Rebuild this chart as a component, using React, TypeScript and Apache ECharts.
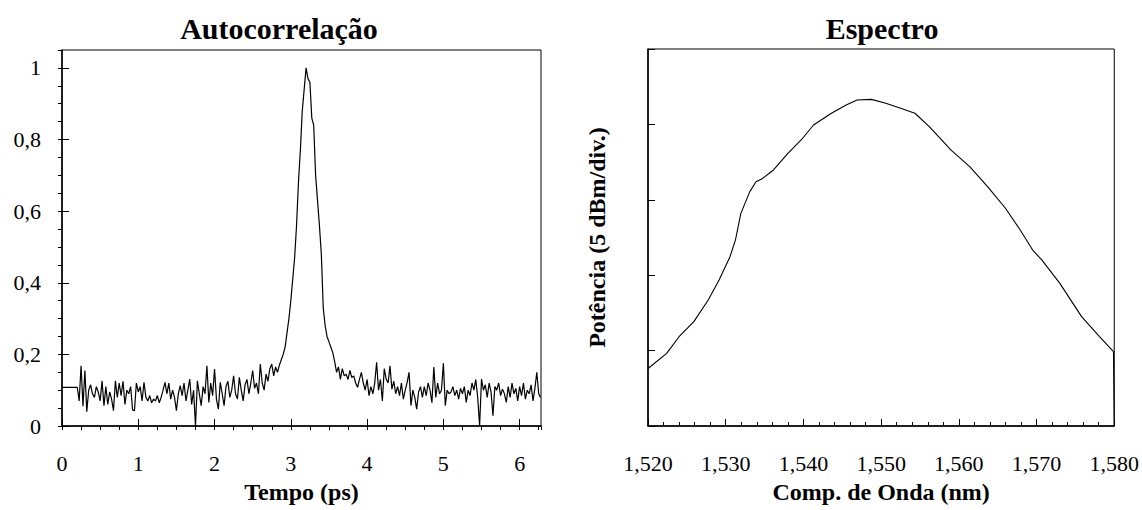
import React, { useEffect, useRef } from "react";
import * as echarts from "echarts";

// Autocorrelação: [tempo (ps), intensidade normalizada]
const AUTOCORR: [number, number][] = [
  [0, 0.108], [0.025, 0.108], [0.05, 0.108], [0.075, 0.108], [0.1, 0.108], [0.125, 0.108], [0.15, 0.108], [0.175, 0.108], [0.2, 0.108],
  [0.225, 0.07], [0.25, 0.168], [0.275, 0.055], [0.3, 0.155], [0.325, 0.04], [0.35, 0.1], [0.375, 0.115], [0.4, 0.09],
  [0.425, 0.08], [0.45, 0.11], [0.475, 0.095], [0.5, 0.07], [0.525, 0.126], [0.55, 0.057], [0.575, 0.11], [0.6, 0.06],
  [0.625, 0.095], [0.65, 0.075], [0.675, 0.043], [0.7, 0.126], [0.725, 0.08], [0.75, 0.12], [0.775, 0.085], [0.8, 0.125],
  [0.825, 0.06], [0.85, 0.1], [0.875, 0.09], [0.9, 0.11], [0.925, 0.045], [0.95, 0.043], [0.975, 0.12], [1.0, 0.095],
  [1.025, 0.11], [1.05, 0.07], [1.075, 0.122], [1.1, 0.08], [1.125, 0.07], [1.15, 0.085], [1.175, 0.065], [1.2, 0.075],
  [1.225, 0.07], [1.25, 0.085], [1.275, 0.065], [1.3, 0.08], [1.325, 0.1], [1.35, 0.122], [1.375, 0.09], [1.4, 0.12],
  [1.425, 0.075], [1.45, 0.1], [1.475, 0.08], [1.5, 0.043], [1.525, 0.09], [1.55, 0.113], [1.575, 0.085], [1.6, 0.12],
  [1.625, 0.07], [1.65, 0.1], [1.675, 0.131], [1.7, 0.06], [1.725, 0.1], [1.75, 0.0], [1.775, 0.126], [1.8, 0.09],
  [1.825, 0.057], [1.85, 0.11], [1.875, 0.09], [1.9, 0.168], [1.925, 0.066], [1.95, 0.12], [1.975, 0.085], [2.0, 0.159],
  [2.025, 0.075], [2.05, 0.047], [2.075, 0.122], [2.1, 0.09], [2.125, 0.057], [2.15, 0.11], [2.175, 0.125], [2.2, 0.08],
  [2.225, 0.1], [2.25, 0.14], [2.275, 0.09], [2.3, 0.075], [2.325, 0.136], [2.35, 0.1], [2.375, 0.07], [2.4, 0.115],
  [2.425, 0.13], [2.45, 0.09], [2.475, 0.12], [2.5, 0.155], [2.525, 0.105], [2.55, 0.12], [2.575, 0.09], [2.6, 0.173],
  [2.625, 0.12], [2.65, 0.1], [2.675, 0.145], [2.7, 0.125], [2.725, 0.16], [2.75, 0.173], [2.775, 0.14], [2.8, 0.165],
  [2.825, 0.15], [2.85, 0.17], [2.875, 0.185], [2.9, 0.2], [2.925, 0.22], [2.95, 0.26], [2.975, 0.3], [3.0, 0.35],
  [3.025, 0.41], [3.05, 0.47], [3.075, 0.56], [3.1, 0.68], [3.125, 0.77], [3.15, 0.88], [3.175, 0.94], [3.2, 1.0],
  [3.225, 0.97], [3.25, 0.96], [3.275, 0.86], [3.3, 0.84], [3.325, 0.7], [3.35, 0.63], [3.375, 0.56], [3.4, 0.48],
  [3.425, 0.33], [3.45, 0.28], [3.475, 0.25], [3.5, 0.235], [3.525, 0.22], [3.55, 0.205], [3.575, 0.18], [3.6, 0.15],
  [3.625, 0.165], [3.65, 0.13], [3.675, 0.16], [3.7, 0.14], [3.725, 0.145], [3.75, 0.13], [3.775, 0.155], [3.8, 0.135],
  [3.825, 0.14], [3.85, 0.12], [3.875, 0.108], [3.9, 0.13], [3.925, 0.15], [3.95, 0.12], [3.975, 0.1], [4.0, 0.13],
  [4.025, 0.085], [4.05, 0.11], [4.075, 0.09], [4.1, 0.12], [4.125, 0.178], [4.15, 0.1], [4.175, 0.13], [4.2, 0.07],
  [4.225, 0.16], [4.25, 0.131], [4.275, 0.12], [4.3, 0.168], [4.325, 0.103], [4.35, 0.125], [4.375, 0.09], [4.4, 0.11],
  [4.425, 0.085], [4.45, 0.12], [4.475, 0.075], [4.5, 0.1], [4.525, 0.122], [4.55, 0.15], [4.575, 0.057], [4.6, 0.1],
  [4.625, 0.08], [4.65, 0.047], [4.675, 0.095], [4.7, 0.11], [4.725, 0.08], [4.75, 0.11], [4.775, 0.085], [4.8, 0.12],
  [4.825, 0.1], [4.85, 0.065], [4.875, 0.165], [4.9, 0.08], [4.925, 0.12], [4.95, 0.09], [4.975, 0.1], [5.0, 0.175],
  [5.025, 0.057], [5.05, 0.1], [5.075, 0.09], [5.1, 0.095], [5.125, 0.11], [5.15, 0.085], [5.175, 0.1], [5.2, 0.075],
  [5.225, 0.105], [5.25, 0.09], [5.275, 0.11], [5.3, 0.066], [5.325, 0.1], [5.35, 0.085], [5.375, 0.12], [5.4, 0.1],
  [5.425, 0.13], [5.45, 0.08], [5.475, 0.0], [5.5, 0.131], [5.525, 0.1], [5.55, 0.115], [5.575, 0.08], [5.6, 0.12],
  [5.625, 0.095], [5.65, 0.029], [5.675, 0.11], [5.7, 0.1], [5.725, 0.12], [5.75, 0.085], [5.775, 0.103], [5.8, 0.09],
  [5.825, 0.066], [5.85, 0.11], [5.875, 0.08], [5.9, 0.12], [5.925, 0.09], [5.95, 0.105], [5.975, 0.07], [6.0, 0.11],
  [6.025, 0.085], [6.05, 0.12], [6.075, 0.075], [6.1, 0.1], [6.125, 0.09], [6.15, 0.115], [6.175, 0.07], [6.2, 0.105],
  [6.225, 0.15], [6.25, 0.09], [6.275, 0.08],
];

// Espectro: [comprimento de onda (nm), potência relativa (dB)]
const SPECTRUM: [number, number][] = [
  [1520.05, 3.83], [1522.4, 4.82], [1524.0, 5.92], [1525.9, 6.92], [1527.75, 8.36], [1529.15, 9.68],
  [1530.55, 11.23], [1531.25, 12.33], [1531.95, 14.1], [1533.1, 15.54], [1533.9, 16.2], [1534.75, 16.42],
  [1536.15, 16.98], [1538.0, 18.08], [1539.9, 19.08], [1541.3, 19.96], [1543.6, 20.74], [1545.5, 21.29],
  [1546.9, 21.62], [1548.75, 21.66], [1550.6, 21.4], [1552.5, 21.07], [1554.35, 20.74], [1556.2, 19.85],
  [1559.0, 18.3], [1561.4, 17.2], [1563.7, 15.87], [1566.0, 14.44], [1567.9, 13.0], [1569.5, 11.67],
  [1570.7, 11.0], [1573.0, 9.46], [1575.8, 7.25], [1578.1, 5.92], [1579.9, 4.93], [1580, 0],
];

const TITLE_LEFT = "Autocorrelação";
const TITLE_RIGHT = "Espectro";
const X_NAME_LEFT = "Tempo (ps)";
const X_NAME_RIGHT = "Comp. de Onda (nm)";
const Y_NAME_RIGHT = "Potência (5 dBm/div.)";

const FONT = '"Liberation Serif", "Times New Roman", serif';

export default function App() {
  const ref = useRef<HTMLDivElement>(null);
  useEffect(() => {
    document.body.style.margin = "0";
    const chart = echarts.init(ref.current!, null, { renderer: "svg" });
    const black = "#000";
    const tickLabel = { color: black, fontFamily: FONT, fontSize: 22 };
    const nameStyle = { color: black, fontFamily: FONT, fontSize: 24, fontWeight: "bold" as const };
    chart.setOption({
      animation: false,
      backgroundColor: "#fff",
      grid: [
        { left: 62, top: 50, width: 479, height: 376, show: true, borderColor: black, borderWidth: 1, backgroundColor: "transparent" },
        { left: 648, top: 49, width: 469, height: 377, show: true, borderColor: black, borderWidth: 1, backgroundColor: "transparent" },
      ],
      xAxis: [
        {
          type: "value", gridIndex: 0, min: 0, max: 6.28, interval: 1,
          axisLine: { lineStyle: { color: black, width: 1.5 } },
          axisTick: { inside: true, length: 7, lineStyle: { color: black } },
          axisLabel: { ...tickLabel, margin: 26, showMaxLabel: false },
          splitLine: { show: false },
          name: X_NAME_LEFT, nameLocation: "middle", nameGap: 54, nameTextStyle: nameStyle,
        },
        {
          type: "value", gridIndex: 0, min: 0, max: 6.28, interval: 0.25,
          axisLine: { show: false },
          axisTick: { inside: true, length: 4, lineStyle: { color: black } },
          axisLabel: { show: false }, splitLine: { show: false },
        },
        {
          type: "value", gridIndex: 1, min: 1520, max: 1580, interval: 10,
          axisLine: { lineStyle: { color: black, width: 1.5 } },
          axisTick: { inside: true, length: 7, lineStyle: { color: black } },
          minorTick: { show: true, splitNumber: 5, length: 4, lineStyle: { color: black } },
          axisLabel: { ...tickLabel, margin: 26 },
          splitLine: { show: false },
          name: X_NAME_RIGHT, nameLocation: "middle", nameGap: 54, nameTextStyle: nameStyle,
        },
      ],
      yAxis: [
        {
          type: "value", gridIndex: 0, min: 0, max: 1.05, interval: 0.2,
          axisLine: { lineStyle: { color: black, width: 1.5 } },
          axisTick: { inside: true, length: 7, lineStyle: { color: black } },
          axisLabel: {
            ...tickLabel, margin: 21, showMaxLabel: false,
            formatter: (v: number) => String(Math.round(v * 10) / 10).replace(".", ","),
          },
          splitLine: { show: false },
        },
        {
          type: "value", gridIndex: 0, min: 0, max: 1.05, interval: 0.05,
          axisLine: { show: false },
          axisTick: { inside: true, length: 4, lineStyle: { color: black } },
          axisLabel: { show: false }, splitLine: { show: false },
        },
        {
          type: "value", gridIndex: 1, min: 0, max: 25, interval: 5,
          axisLine: { lineStyle: { color: black, width: 1.5 } },
          axisTick: { inside: true, length: 7, lineStyle: { color: black } },
          axisLabel: { show: false },
          splitLine: { show: false },
          name: Y_NAME_RIGHT, nameLocation: "middle", nameGap: 39, nameTextStyle: nameStyle,
        },
      ],
      graphic: [
        { type: "text", x: 279, y: 28, style: { text: TITLE_LEFT, font: `bold 30px ${FONT}`, fill: black, textAlign: "center", textVerticalAlign: "middle" } },
        { type: "text", x: 882, y: 28, style: { text: TITLE_RIGHT, font: `bold 30px ${FONT}`, fill: black, textAlign: "center", textVerticalAlign: "middle" } },
      ],
      series: [
        {
          type: "line", xAxisIndex: 0, yAxisIndex: 0, data: AUTOCORR, showSymbol: false, symbol: "none",
          lineStyle: { color: black, width: 1.2 }, silent: true,
        },
        {
          type: "line", xAxisIndex: 2, yAxisIndex: 2, data: SPECTRUM, showSymbol: false, symbol: "none",
          lineStyle: { color: black, width: 1.1 }, silent: true,
        },
      ],
    });
    return () => chart.dispose();
  }, []);
  return <div ref={ref} style={{ width: 1142, height: 510 }} />;
}
